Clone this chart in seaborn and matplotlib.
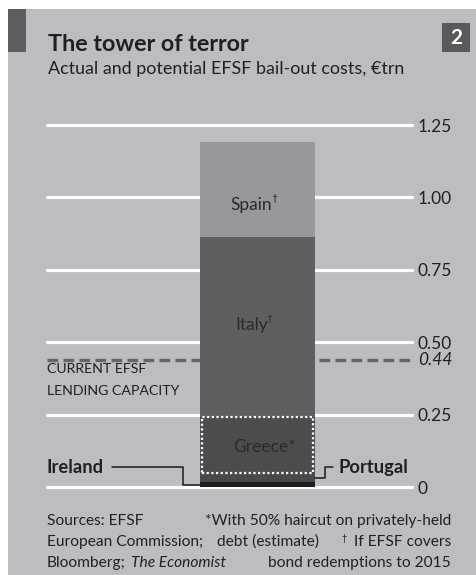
import numpy as np
import pandas as pd
import seaborn as sns
import matplotlib.pyplot as plt
import matplotlib.transforms as mtransforms
from matplotlib.patches import Rectangle

# ---------------- data ----------------
countries = ["Ireland", "Portugal", "Greece", "Italy", "Spain"]
costs = [0.017, 0.026, 0.200, 0.620, 0.330]          # € trn per country
seg_colors = ["#1c1c1d", "#48494b", "#4b4c4e", "#5e5f61", "#97989b"]
capacity = 0.44
ytick_vals = [0, 0.25, 0.50, 0.75, 1.00, 1.25]
ytick_labels = ["0", "0.25", "0.50", "0.75", "1.00", "1.25"]

W, H = 476, 575
BG = "#bcbdc1"
TXT = "#231f20"

sns.set_style("white")
plt.rcParams["font.family"] = ["Lato", "DejaVu Sans"]

cum = np.cumsum(costs)
bottoms = cum - np.array(costs)
df = pd.DataFrame({"country": countries, "cost": costs, "top": cum, "bottom": bottoms})

fig = plt.figure(figsize=(W / 100, H / 100), dpi=100, facecolor="white")

def fx(px):
    return px / W

def fy(py):
    return 1 - py / H

# panel background
fig.patches.append(Rectangle((fx(8), 0), 1 - fx(8), fy(9), transform=fig.transFigure,
                             facecolor=BG, edgecolor="none", zorder=-10))
# left tab
fig.patches.append(Rectangle((fx(8), fy(52)), fx(26) - fx(8), fy(9) - fy(52),
                             transform=fig.transFigure, facecolor="#5d5e60",
                             edgecolor="none", zorder=-5))
# number box
fig.patches.append(Rectangle((fx(442), fy(52)), fx(470) - fx(442), fy(23) - fy(52),
                             transform=fig.transFigure, facecolor="#58595b",
                             edgecolor="none", zorder=-5))
fig.text(fx(456), fy(37.5), "2", color="white", fontsize=15, fontweight="bold",
         ha="center", va="center")

fig.text(fx(48), fy(51), "The tower of terror", fontsize=16.8, fontweight="bold",
         color=TXT, va="baseline", ha="left")
fig.text(fx(48), fy(74), "Actual and potential EFSF bail-out costs, €trn",
         fontsize=12.9, color=TXT, va="baseline", ha="left")

# ---------------- axes ----------------
ax = fig.add_axes([fx(47), fy(487), fx(412) - fx(47), fy(125) - fy(487)])
ax.set_facecolor("none")
ax.set_zorder(5)

for i in reversed(range(len(countries))):
    sns.barplot(x=["EFSF"], y=[df["top"][i]], color=seg_colors[i], saturation=1,
                width=0.8, linewidth=0, ax=ax, zorder=3)

ax.set_xlim(-1.464, 1.075)
ax.set_ylim(0, 1.25)
for s in ax.spines.values():
    s.set_visible(False)
ax.set_xticks([])
ax.set_xlabel("")
ax.set_ylabel("")

for v in ytick_vals:
    ax.axhline(v, color="white", lw=2.3, zorder=1, clip_on=False)
ax.set_yticks(ytick_vals)
ax.set_yticklabels(ytick_labels)
ax.yaxis.tick_right()
ax.tick_params(axis="y", length=0, pad=4.3, labelsize=12.5, labelcolor=TXT)

# lending capacity line
ax.axhline(capacity, color="#646567", lw=2.4, dashes=(3.2, 1.6), zorder=2,
           clip_on=False)
cap_tr = ax.get_yaxis_transform() + mtransforms.ScaledTranslation(6 / 100, 0, fig.dpi_scale_trans)
ax.text(1.0, capacity, f"{capacity:.2f}", transform=cap_tr, fontsize=12.5,
        style="italic", color=TXT, va="center", ha="left")
ax.text(0, 0.408, "CURRENT EFSF", transform=ax.get_yaxis_transform(), fontsize=10.2,
        color=TXT, va="center", ha="left")
ax.text(0, 0.333, "LENDING CAPACITY", transform=ax.get_yaxis_transform(), fontsize=10.2,
        color=TXT, va="center", ha="left")

# Greece dotted box
g = df.iloc[2]
ax.add_patch(Rectangle((-0.4 + 0.012, g["bottom"] + 0.004), 0.8 - 0.026,
                       g["cost"] - 0.006, fill=False, edgecolor="white",
                       lw=1.6, linestyle=(0, (1, 1.1)), zorder=4))

# segment labels
lab_pos = {"Spain": (-0.04, 0.975), "Italy": (-0.04, 0.56), "Greece": (0.05, 0.138)}
for name, mark in [("Spain", "†"), ("Italy", "†"), ("Greece", "*")]:
    xx, yy = lab_pos[name]
    if mark == "*":
        ax.text(xx, yy, name + mark, fontsize=12.5, color="#2a2a2b", ha="center",
                va="center", zorder=5)
    else:
        t = ax.text(xx, yy, name, fontsize=12.5, color="#2a2a2b", ha="center",
                    va="center", zorder=5)
        ax.annotate(mark, xy=(1.0, 1.0), xycoords=t, xytext=(-1.0, 1.8),
                    textcoords="offset points", fontsize=7.5, color="#2a2a2b",
                    ha="left", va="top", zorder=5)

# Ireland / Portugal callouts
lvl = 0.069
ire = df.iloc[0]
por = df.iloc[1]
ire_mid = ire["bottom"] + ire["cost"] / 2
por_mid = por["bottom"] + por["cost"] / 2
ax.plot([-1.012, -0.518, -0.518, -0.4], [lvl, lvl, ire_mid, ire_mid],
        color="#1a1a1a", lw=1.1, clip_on=False, zorder=5)
ax.plot([0.4, 0.47, 0.47, 0.525], [por_mid, por_mid, lvl, lvl],
        color="#1a1a1a", lw=1.1, clip_on=False, zorder=5)
ax.text(-1.464, lvl, "Ireland", fontsize=13.2, fontweight="bold", color=TXT,
        ha="left", va="center")
ax.text(0.567, lvl, "Portugal", fontsize=13.2, fontweight="bold", color=TXT,
        ha="left", va="center")

# footer
fs = 11.2
fig.text(fx(47), fy(525), "Sources: EFSF", fontsize=fs, color=TXT, va="baseline")
fig.text(fx(47), fy(546), "European Commission;", fontsize=fs, color=TXT, va="baseline")
tb = fig.text(fx(47), fy(567), "Bloomberg;", fontsize=fs, color=TXT, va="baseline")
fig.add_artist(plt.Annotation("The Economist", xy=(1, 0), xycoords=tb,
                              xytext=(3.5, 0), textcoords="offset points",
                              fontsize=fs, color=TXT, style="italic",
                              ha="left", va="bottom"))
fig.text(fx(451), fy(525), "*With 50% haircut on privately-held", fontsize=fs,
         color=TXT, va="baseline", ha="right")
fig.text(fx(217), fy(546), "debt (estimate)", fontsize=fs, color=TXT, va="baseline")
tif = fig.text(fx(451), fy(546), "If EFSF covers", fontsize=fs, color=TXT,
               va="baseline", ha="right")
fig.add_artist(plt.Annotation("†", xy=(0, 1), xycoords=tif, xytext=(-5, 0.5),
                              textcoords="offset points", fontsize=6.5, color=TXT,
                              ha="right", va="top"))
fig.text(fx(451), fy(567), "bond redemptions to 2015", fontsize=fs, color=TXT,
         va="baseline", ha="right")

fig.savefig("out.png", dpi=100, facecolor=fig.get_facecolor())
